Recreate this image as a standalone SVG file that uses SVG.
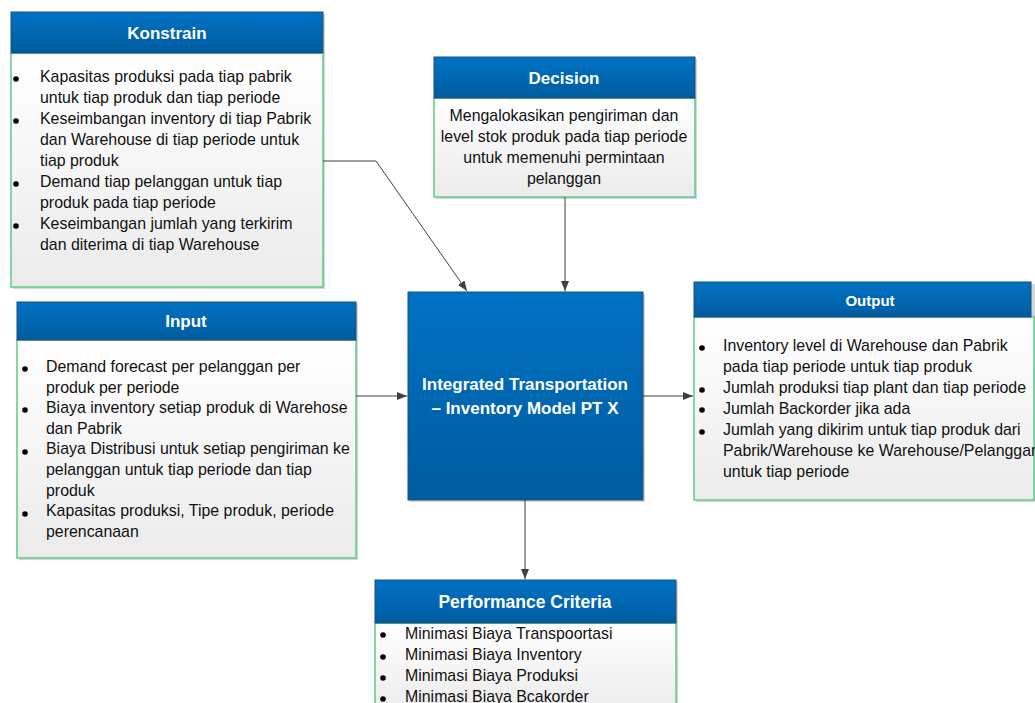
<svg xmlns="http://www.w3.org/2000/svg" width="1035" height="703" viewBox="0 0 1035 703">
<defs>
<linearGradient id="hdr" x1="0" y1="0" x2="0" y2="1"><stop offset="0" stop-color="#0072C4"/><stop offset="1" stop-color="#005C9F"/></linearGradient>
<linearGradient id="body" x1="0" y1="0" x2="0" y2="1"><stop offset="0" stop-color="#FFFFFF"/><stop offset="1" stop-color="#EBEBEB"/></linearGradient>
<marker id="arr" markerWidth="10" markerHeight="10" refX="10" refY="5" orient="auto" markerUnits="userSpaceOnUse"><path d="M0,1 L10,5 L0,9 z" fill="#404040"/></marker>
<style>
.sh{fill:#D6D6D6}
.hd{fill:url(#hdr);stroke:#1F4E79;stroke-width:1}
.bd{fill:url(#body);stroke:#5CCB8A;stroke-width:1.5}
.tt{font-family:"Liberation Sans",Arial,sans-serif;font-weight:bold;fill:#FFFFFF;font-size:17px;text-anchor:middle}
.tx{font-family:"Liberation Sans",Arial,sans-serif;font-size:15.9px;fill:#111111}
.dt{fill:#000}
.cn{fill:none;stroke:#404040;stroke-width:1;marker-end:url(#arr)}
</style>
</defs>
<g id="konstrain">
<rect class="sh" x="13" y="14" width="312" height="275"/>
<rect class="bd" x="11" y="53" width="312" height="234"/>
<rect class="hd" x="11" y="12" width="312" height="41"/>
<text class="tt" x="167" y="39">Konstrain</text>
<circle class="dt" cx="16" cy="79" r="2.8"/><circle class="dt" cx="16" cy="121" r="2.8"/><circle class="dt" cx="16" cy="184" r="2.8"/><circle class="dt" cx="16" cy="226" r="2.8"/>
<text class="tx" x="40" y="82">Kapasitas produksi pada tiap pabrik</text>
<text class="tx" x="40" y="103">untuk tiap produk dan tiap periode</text>
<text class="tx" x="40" y="124">Keseimbangan inventory di tiap Pabrik</text>
<text class="tx" x="40" y="145">dan Warehouse di tiap periode untuk</text>
<text class="tx" x="40" y="166">tiap produk</text>
<text class="tx" x="40" y="187">Demand tiap pelanggan untuk tiap</text>
<text class="tx" x="40" y="208">produk pada tiap periode</text>
<text class="tx" x="40" y="229">Keseimbangan jumlah yang terkirim</text>
<text class="tx" x="40" y="250">dan diterima di tiap Warehouse</text>
</g>
<g id="decision">
<rect class="sh" x="436" y="59" width="261" height="140"/>
<rect class="bd" x="434" y="98" width="261" height="99"/>
<rect class="hd" x="434" y="57" width="261" height="41"/>
<text class="tt" x="564" y="84">Decision</text>
<text class="tx" x="564" y="121" text-anchor="middle">Mengalokasikan pengiriman dan</text>
<text class="tx" x="564" y="142" text-anchor="middle">level stok produk pada tiap periode</text>
<text class="tx" x="564" y="163" text-anchor="middle">untuk memenuhi permintaan</text>
<text class="tx" x="564" y="184" text-anchor="middle">pelanggan</text>
</g>
<g id="input">
<rect class="sh" x="19" y="304" width="339" height="256"/>
<rect class="bd" x="17" y="340" width="339" height="218"/>
<rect class="hd" x="17" y="302" width="339" height="38"/>
<text class="tt" x="186" y="327">Input</text>
<circle class="dt" cx="25" cy="369" r="2.8"/><circle class="dt" cx="25" cy="410" r="2.8"/><circle class="dt" cx="25" cy="452" r="2.8"/><circle class="dt" cx="25" cy="514" r="2.8"/>
<text class="tx" x="46" y="372">Demand forecast per pelanggan per</text>
<text class="tx" x="46" y="393">produk per periode</text>
<text class="tx" x="46" y="413">Biaya inventory setiap produk di Warehose</text>
<text class="tx" x="46" y="434">dan Pabrik</text>
<text class="tx" x="46" y="454">Biaya Distribusi untuk setiap pengiriman ke</text>
<text class="tx" x="46" y="475">pelanggan untuk tiap periode dan tiap</text>
<text class="tx" x="46" y="496">produk</text>
<text class="tx" x="46" y="516">Kapasitas produksi, Tipe produk, periode</text>
<text class="tx" x="46" y="537">perencanaan</text>
</g>
<g id="model">
<rect class="sh" x="410" y="294" width="235" height="208"/>
<rect class="hd" x="408" y="292" width="235" height="208"/>
<text class="tt" x="525" y="390" font-size="17.5">Integrated Transportation</text>
<text class="tt" x="525" y="414" font-size="17.5">– Inventory Model PT X</text>
</g>
<g id="output">
<rect class="sh" x="696" y="284" width="339" height="218"/>
<rect class="bd" x="694" y="317" width="340" height="183"/>
<rect class="hd" x="694" y="282" width="337" height="35"/>
<text class="tt" x="870" y="306" style="font-size:15px">Output</text>
<circle class="dt" cx="702" cy="348" r="2.8"/><circle class="dt" cx="702" cy="390" r="2.8"/><circle class="dt" cx="702" cy="410" r="2.8"/><circle class="dt" cx="702" cy="432" r="2.8"/>
<text class="tx" x="723" y="351">Inventory level di Warehouse dan Pabrik</text>
<text class="tx" x="723" y="372">pada tiap periode untuk tiap produk</text>
<text class="tx" x="723" y="393">Jumlah produksi tiap plant dan tiap periode</text>
<text class="tx" x="723" y="414">Jumlah Backorder jika ada</text>
<text class="tx" x="723" y="435">Jumlah yang dikirim untuk tiap produk dari</text>
<text class="tx" x="723" y="456">Pabrik/Warehouse ke Warehouse/Pelanggan</text>
<text class="tx" x="723" y="477">untuk tiap periode</text>
</g>
<g id="performance">
<rect class="sh" x="377" y="582" width="301" height="130"/>
<rect class="bd" x="375" y="623" width="301" height="90"/>
<rect class="hd" x="375" y="580" width="301" height="43"/>
<text class="tt" x="525" y="608" style="font-size:17.5px">Performance Criteria</text>
<circle class="dt" cx="383" cy="635" r="2.8"/><circle class="dt" cx="383" cy="657" r="2.8"/><circle class="dt" cx="383" cy="678" r="2.8"/><circle class="dt" cx="383" cy="699" r="2.8"/>
<text class="tx" x="405" y="639">Minimasi Biaya Transpoortasi</text>
<text class="tx" x="405" y="660">Minimasi Biaya Inventory</text>
<text class="tx" x="405" y="681">Minimasi Biaya Produksi</text>
<text class="tx" x="405" y="702">Minimasi Biaya Bcakorder</text>
</g>
<g id="connectors">
<path class="cn" d="M323,161 H376 L467,291"/>
<path class="cn" d="M565,197 V291"/>
<path class="cn" d="M356,396 H407"/>
<path class="cn" d="M643,396 H693"/>
<path class="cn" d="M525,500 V579"/>
</g>
</svg>
